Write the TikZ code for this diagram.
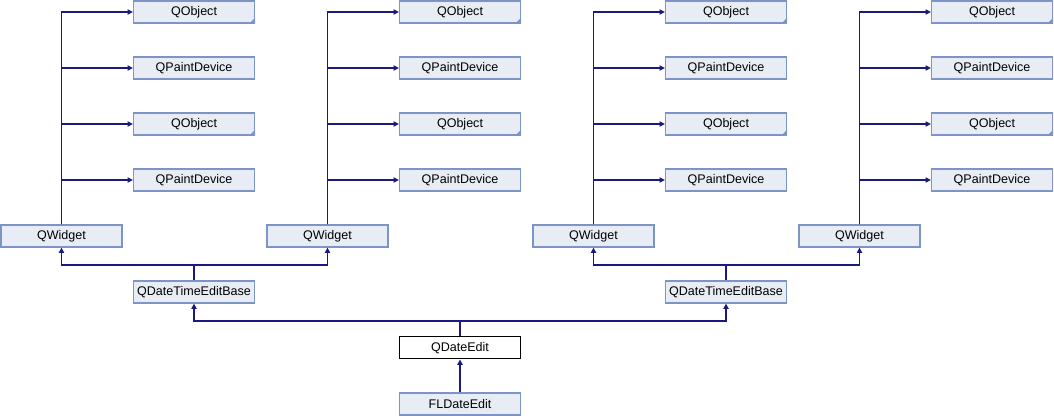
\documentclass[tikz,border=0pt]{standalone}
\usepackage{fontspec}
\setmainfont{Liberation Sans}
\usetikzlibrary{arrows.meta}
\definecolor{boxfill}{HTML}{E8ECF4}
\definecolor{boxline}{HTML}{7C94C6}
\definecolor{edgecol}{HTML}{191980}
\begin{document}
\begin{tikzpicture}[x=0.75pt,y=-0.75pt,
  cls/.style={draw=boxline, fill=boxfill, line width=0.95pt, minimum width=121*0.75pt,
    minimum height=22*0.75pt, inner sep=0pt, font=\fontsize{9.4pt}{11pt}\selectfont},
  cur/.style={cls, draw=black, fill=white, line width=0.75pt},
  edge/.style={draw=edgecol, line width=0.95pt, -{Triangle[length=4pt,width=4pt]}},
  corner/.style={fill=boxline}]
\useasboundingbox (0,0) rectangle (1054,416);
% columns
\foreach \g/\wx/\ox in {A/61.5/194, C/327.5/460, E/593.5/726, G/859.5/992}{
  \node[cls] (qw\g) at (\wx,236) {QWidget};
  \node[cls] (qo\g1) at (\ox,12) {QObject};
  \node[cls] (qp\g1) at (\ox,68) {QPaintDevice};
  \node[cls] (qo\g2) at (\ox,124) {QObject};
  \node[cls] (qp\g2) at (\ox,180) {QPaintDevice};
  \foreach \t in {qo\g1,qo\g2}{
    \fill[corner] (\t.south east) -- ++(-6,0) -- ++(6,-6) -- cycle;
  }
  \foreach \t in {qo\g1,qp\g1,qo\g2,qp\g2}{
    \draw[edge] (qw\g.north) |- (\t.west);
  }
}
\node[cls] (dtL) at (194,292) {QDateTimeEditBase};
\node[cls] (dtR) at (726,292) {QDateTimeEditBase};
\node[cur] (de) at (460,348) {QDateEdit};
\node[cls] (fl) at (460,404) {FLDateEdit};
\coordinate (jL) at (194,265);
\coordinate (jR) at (726,265);
\coordinate (jD) at (460,321);
\draw[edge] (dtL.north) -- (jL) -| (qwA.south);
\draw[edge] (dtL.north) -- (jL) -| (qwC.south);
\draw[edge] (dtR.north) -- (jR) -| (qwE.south);
\draw[edge] (dtR.north) -- (jR) -| (qwG.south);
\draw[edge] (de.north) -- (jD) -| (dtL.south);
\draw[edge] (de.north) -- (jD) -| (dtR.south);
\draw[edge] (fl.north) -- (de.south);
\end{tikzpicture}
\end{document}
